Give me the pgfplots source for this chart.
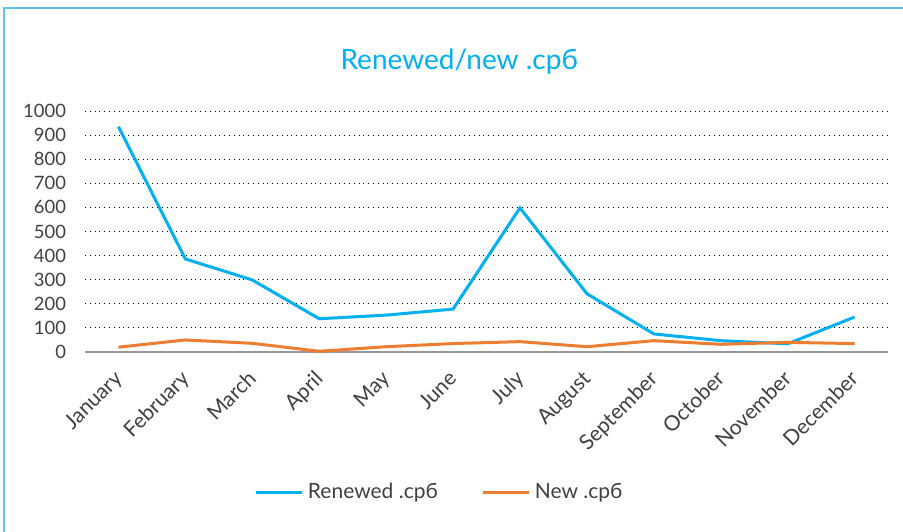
\documentclass[border=0pt]{standalone}
\usepackage{fontspec}
\setmainfont{Lato}
\usepackage{pgfplots}
\pgfplotsset{compat=1.18}
\definecolor{renewblue}{HTML}{00B0F0}
\definecolor{neworange}{HTML}{ED7D31}
\definecolor{framecol}{HTML}{5BC6F2}
\definecolor{labgray}{HTML}{404040}
\begin{document}
\begin{tikzpicture}
\useasboundingbox (0,0) rectangle (451.5pt,265.5pt);
\fill[white] (0,0) rectangle (451.5pt,265.5pt);
\draw[framecol, line width=0.8pt] (2pt,-5pt) -- (2pt,261.5pt) -- (460pt,261.5pt);
\begin{axis}[at={(42.5pt,89.5pt)}, anchor=south west, scale only axis,
  width=401.5pt, height=120.5pt,
  xmin=-0.5, xmax=11.5, ymin=0, ymax=1000,
  xtick={0,...,11},
  xticklabels={January,February,March,April,May,June,July,August,September,October,November,December},
  ytick={0,100,...,1000},
  major tick length=0pt,
  axis line style={draw=none},
  ymajorgrids, grid style={black, dotted, line width=0.5pt},
  /pgf/number format/assume math mode=true,
  /pgf/number format/1000 sep={},
  tick label style={font=\fontsize{9.2}{11}\selectfont, text=labgray},
  yticklabel style={xshift=-6pt},
  xticklabel style={rotate=45, anchor=north east, xshift=-4.7pt, yshift=-0.5pt, font=\fontsize{10.5}{12}\selectfont},
  title={Renewed/new .срб},
  title style={at={(0.466,1.212)}, anchor=center, yshift=-7pt, font=\fontsize{14}{16}\selectfont, text=renewblue},
  legend columns=2,
  legend style={draw=none, at={(0.443,-0.581)}, anchor=center, font=\fontsize{10.5}{12}\selectfont, text=labgray,
    /tikz/every even column/.append style={column sep=20pt}},
  legend image code/.code={\draw[#1] (0pt,0pt) -- (23pt,0pt);},
]
\draw[gray!80, line width=1pt] (rel axis cs:0,0) -- (rel axis cs:1,0);
\addplot[renewblue, line width=1.5pt] coordinates {(0,935) (1,386) (2,299) (3,138) (4,153) (5,178) (6,598) (7,242) (8,75) (9,47) (10,34) (11,145)};
\addlegendentry{Renewed .срб}
\addplot[neworange, line width=1.5pt] coordinates {(0,20) (1,50) (2,36) (3,3) (4,22) (5,35) (6,43) (7,22) (8,47) (9,32) (10,40) (11,35)};
\addlegendentry{New .срб}
\end{axis}
\end{tikzpicture}
\end{document}
